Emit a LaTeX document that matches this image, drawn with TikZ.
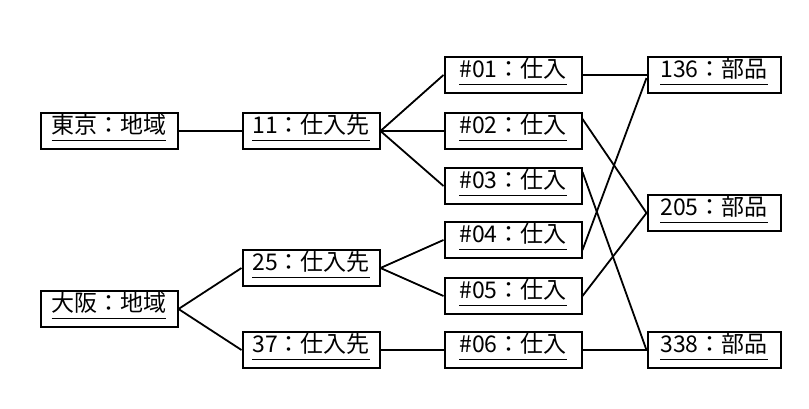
\documentclass[tikz,border=0pt]{standalone}
\usepackage{fontspec}
\setmainfont{Noto Sans CJK JP}
\tikzset{
    obj/.style={draw, line width=2pt, minimum width=137pt, minimum height=36pt,
        inner sep=2pt, font=\fontsize{23}{23}\selectfont},
    link/.style={line width=1.8pt}
}
\newcommand{\objname}[1]{\underline{\smash{#1}\vphantom{g}}}
\begin{document}
\begin{tikzpicture}[x=1pt, y=-1pt]
    \useasboundingbox (0,0) rectangle (809,408);

    % regions and suppliers
    \node[obj] (tokyo) at (109,131) {\objname{東京：地域}};
    \node[obj] (osaka) at (109,309) {\objname{大阪：地域}};
    \node[obj] (s11) at (311,131) {\objname{11：仕入先}};
    \node[obj] (s25) at (311,268) {\objname{25：仕入先}};
    \node[obj] (s37) at (311,350) {\objname{37：仕入先}};

    % purchases
    \node[obj] (p01) at (513,75) {\objname{\#01：仕入}};
    \node[obj] (p02) at (513,131) {\objname{\#02：仕入}};
    \node[obj] (p03) at (513,186) {\objname{\#03：仕入}};
    \node[obj] (p04) at (513,240) {\objname{\#04：仕入}};
    \node[obj] (p05) at (513,296) {\objname{\#05：仕入}};
    \node[obj] (p06) at (513,350) {\objname{\#06：仕入}};

    % parts
    \node[obj, minimum width=133pt] (q136) at (714,75) {\objname{136：部品}};
    \node[obj, minimum width=133pt] (q205) at (714,213) {\objname{205：部品}};
    \node[obj, minimum width=133pt] (q338) at (714,350) {\objname{338：部品}};

    % links
    \draw[link] (tokyo) -- (s11);
    \draw[link] (osaka.east) -- (s25.west);
    \draw[link] (osaka.east) -- (s37.west);
    \foreach \p in {p01,p02,p03}
        \draw[link] (s11.east) -- (\p.west);
    \foreach \p in {p04,p05}
        \draw[link] (s25.east) -- (\p.west);
    \draw[link] (s37) -- (p06);
    \draw[link] (p01.east) -- (q136.west);
    \draw[link] ([yshift=12pt]p02.east) -- (q205.west);
    \draw[link] ([yshift=14pt]p03.east) -- (q338.west);
    \draw[link] ([yshift=-10pt]p04.east) -- ([yshift=-3pt]q136.west);
    \draw[link] (p05.east) -- (q205.west);
    \draw[link] (p06.east) -- (q338.west);
\end{tikzpicture}
\end{document}
